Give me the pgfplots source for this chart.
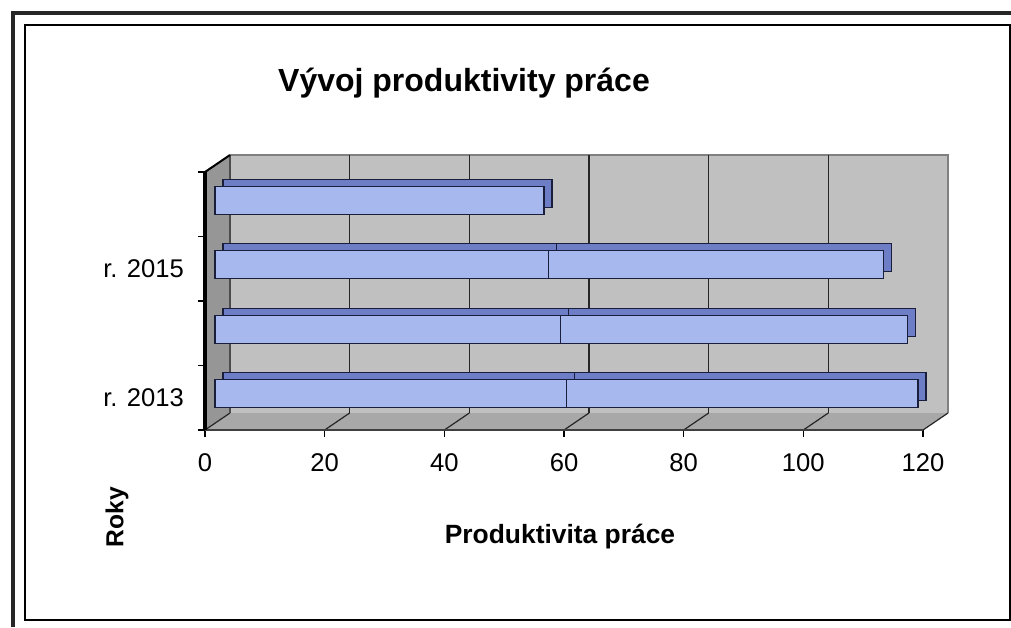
\documentclass[border=0pt]{standalone}
\usepackage{fontspec}
\setmainfont{Liberation Sans}
\usepackage{pgfplots}
\usepackage{pgfplotstable}
\pgfplotsset{compat=1.18}
\definecolor{barfront}{RGB}{166,184,238}
\definecolor{bartop}{RGB}{110,126,198}
\definecolor{barline}{RGB}{25,30,60}
\definecolor{wallc}{RGB}{192,192,192}
\definecolor{sidewall}{RGB}{150,150,150}
\definecolor{floorc}{RGB}{168,168,168}

\pgfplotstableread{
y total first
0 117.5 58.7
1 115.8 57.8
2 111.7 55.8
3 55.0 55.0
}\datatable

\begin{document}
\begin{tikzpicture}[x=1pt,y=1pt]
\path[use as bounding box] (0,0) rectangle (505.5,313.5);
\draw[line width=1.8pt, black!85] (6.5,0) -- (6.5,307) -- (505.5,307);
\draw[line width=0.6pt] (12.5,301) -- (505,301) -- (505,3.5) -- (12.5,3.5) -- cycle;
\begin{axis}[at={(102.5pt,98.5pt)}, anchor=south west, scale only axis,
  width=359pt, height=129pt,
  xmin=0, xmax=120, ymin=-0.5, ymax=3.5, clip=false,
  axis line style={draw=none},
  tick pos=left, tick align=outside, major tick length=3.5pt,
  xtick={0,20,...,120},
  ytick={-0.5,0.5,1.5,2.5,3.5}, yticklabels={},
  extra y ticks={0,2}, extra y tick labels={r. 2013, r. 2015},
  extra y tick style={major tick length=0pt, yticklabel style={xshift=-7pt}},
  tick style={black, line width=0.6pt},
  ticklabel style={font=\fontsize{12.8}{15}\selectfont},
  xticklabel style={yshift=-5pt},
  /pgf/number format/assume math mode=true,
]
% walls
\fill[sidewall] (axis cs:0,-0.5) -- ([shift={(12.5pt,8.5pt)}]axis cs:0,-0.5) -- ([shift={(12.5pt,8.5pt)}]axis cs:0,3.5) -- (axis cs:0,3.5) -- cycle;
\fill[wallc] ([shift={(12.5pt,8.5pt)}]axis cs:0,-0.5) rectangle ([shift={(12.5pt,8.5pt)}]axis cs:120,3.5);
\draw[gray, line width=0.6pt] ([shift={(12.5pt,8.5pt)}]axis cs:0,3.5) -- ([shift={(12.5pt,8.5pt)}]axis cs:120,3.5) -- ([shift={(12.5pt,8.5pt)}]axis cs:120,-0.5);
\fill[floorc] (axis cs:0,-0.5) -- (axis cs:120,-0.5) -- ([shift={(12.5pt,8.5pt)}]axis cs:120,-0.5) -- ([shift={(12.5pt,8.5pt)}]axis cs:0,-0.5) -- cycle;
\pgfplotsinvokeforeach{20,40,60,80,100}{
  \draw[black!85, line width=0.8pt] ([shift={(12.5pt,8.5pt)}]axis cs:#1,-0.5) -- ([shift={(12.5pt,8.5pt)}]axis cs:#1,3.5);
}
\pgfplotsinvokeforeach{0,20,40,60,80,100,120}{
  \draw[black!85, line width=0.6pt] (axis cs:#1,-0.5) -- ([shift={(12.5pt,8.5pt)}]axis cs:#1,-0.5);
}
\draw[black!70, line width=0.6pt] ([shift={(12.5pt,8.5pt)}]axis cs:0,-0.5) -- ([shift={(12.5pt,8.5pt)}]axis cs:0,3.5);
\draw[black, line width=1pt] (axis cs:0,3.5) -- ([shift={(12.5pt,8.5pt)}]axis cs:0,3.5);
\draw[black!75, line width=0.7pt] (axis cs:0,-0.5) -- (axis cs:120,-0.5);
\draw[black, line width=2pt] (axis cs:0,-0.5) -- (axis cs:0,3.5);
% bars: depth faces
\addplot[xbar, bar shift=0pt, bar width=14pt, fill=bartop, draw=barline, line width=0.6pt, xshift=9pt, yshift=5.5pt] table[x=total, y=y]{\datatable};
\addplot[xbar, bar shift=0pt, bar width=14pt, fill=bartop, draw=barline, line width=0.6pt, xshift=9pt, yshift=5.5pt] table[x=first, y=y]{\datatable};
% bars: front faces
\addplot[xbar, bar shift=0pt, bar width=14pt, fill=barfront, draw=barline, line width=0.6pt, xshift=5pt, yshift=2pt] table[x=total, y=y]{\datatable};
\addplot[xbar, bar shift=0pt, bar width=14pt, fill=barfront, draw=barline, line width=0.6pt, xshift=5pt, yshift=2pt] table[x=first, y=y]{\datatable};
\end{axis}
\node[font=\bfseries\fontsize{16}{19}\selectfont, anchor=base] at (232,267.5) {Vývoj produktivity práce};
\node[font=\bfseries\fontsize{13.2}{16}\selectfont, anchor=base] at (280,42) {Produktivita práce};
\node[font=\bfseries\fontsize{12.3}{15}\selectfont, rotate=90] at (58.5,55) {Roky};
\end{tikzpicture}
\end{document}
